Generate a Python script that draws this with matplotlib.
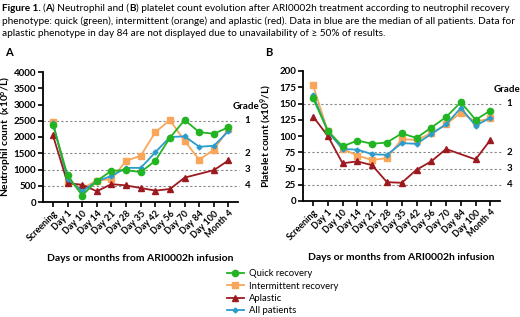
import matplotlib
matplotlib.use('Agg')
from matplotlib import pyplot as plt
import numpy as np

# %%
days = ['Screening', 'Day 1', 'Day 10', 'Day 14', 'Day 21', 'Day 28', 'Day 35',
        'Day 42', 'Day 56', 'Day 70', 'Day 84', 'Day 100', 'Month 4']

neu_quick = [2380, 820, 200, 650, 960, 980, 920, 1270, 1980, 2520, 2150, 2100, 2300]
neu_inter = [2470, 620, 420, 660, 700, 1270, 1420, 2150, 2520, 1880, 1300, 1610, 2250]
neu_aplastic = [2050, 580, 530, 330, 550, 510, 430, 350, 400, 750, np.nan, 980, 1280]
neu_all = [2420, 720, 330, 640, 800, 1050, 1050, 1530, 2000, 2020, 1700, 1730, 2180]

plt_quick = [158, 108, 84, 93, 88, 90, 104, 97, 113, 129, 152, 125, 139]
plt_inter = [178, 107, 80, 70, 63, 66, 95, 94, 104, 118, 136, 122, 127]
plt_aplastic = [130, 100, 58, 61, 55, 29, 28, 48, 61, 80, np.nan, 64, 94]
plt_all = [163, 107, 80, 79, 72, 71, 89, 88, 103, 118, 143, 116, 128]

neu_grades = [2500, 1500, 1000, 500]
plt_grades = [150, 75, 50, 25]
grade_names = ['1', '2', '3', '4']

series_names = ['Quick recovery', 'Intermittent recovery', 'Aplastic', 'All patients']

# %%
plt.rcParams['font.family'] = ['Lato', 'DejaVu Sans']
plt.rcParams['mathtext.fontset'] = 'custom'
plt.rcParams['mathtext.rm'] = 'Lato:bold'
plt.rcParams['mathtext.default'] = 'rm'

GREEN = '#22b422'
ORANGE = '#f9a65a'
RED = '#9c1a1f'
BLUE = '#2b9ccc'

fig = plt.figure(figsize=(5.2, 3.17), dpi=100)
renderer = fig.canvas.get_renderer()

# caption, first line has bold parts
first_line = [('Figure 1. ', 'bold'), ('(', 'normal'), ('A', 'bold'),
              (') Neutrophil and (', 'normal'), ('B', 'bold'),
              (') platelet count evolution after ARI0002h treatment according to neutrophil recovery', 'normal')]
x0 = 0.003
for txt, w in first_line:
    t = fig.text(x0, 0.988, txt, fontsize=7.2, weight=w, va='top', ha='left')
    x0 += t.get_window_extent(renderer=renderer).width / fig.bbox.width
fig.text(0.003, 0.948, 'phenotype: quick (green), intermittent (orange) and aplastic (red). Data in blue are the median of all patients. Data for',
         fontsize=7.2, va='top', ha='left')
fig.text(0.003, 0.908, 'aplastic phenotype in day 84 are not displayed due to unavailability of \u2265 50% of results.',
         fontsize=7.2, va='top', ha='left')

fig.text(0.01, 0.822, 'A', fontsize=8, weight='bold')
fig.text(0.51, 0.822, 'B', fontsize=8, weight='bold')

ax_a = fig.add_axes([43 / 520, 1 - 202 / 317, 195 / 520, 130 / 317])
ax_b = fig.add_axes([303 / 520, 1 - 201 / 317, 197 / 520, 130 / 317])

x = np.arange(len(days))


def draw(ax, quick, inter, apl, allp, grades, ylim, step, ylabel, label_x):
    for g, name in zip(grades, grade_names):
        ax.plot([-0.7, 12.75], [g, g], ls=(0, (2, 2)), color='#888888', lw=0.8,
                clip_on=False, zorder=1)
        ax.text(13.1, g, name, fontsize=7, weight='bold', va='center', ha='left')
    ax.text(12.25, grades[0] + (ylim[1] - ylim[0]) * 0.11, 'Grade', fontsize=7,
            weight='bold', va='center', ha='left')

    mask = ~np.isnan(np.array(apl, dtype=float))
    ax.plot(x, inter, color=ORANGE, marker='s', ms=4.8, lw=1.3, zorder=3,
            label=series_names[1])
    ax.plot(x[mask], np.array(apl)[mask], color=RED, marker='^', ms=4.5, lw=1.3,
            zorder=3, label=series_names[2])
    ax.plot(x, allp, color=BLUE, marker='D', ms=2.5, lw=1.3, zorder=4,
            label=series_names[3])
    ax.plot(x, quick, color=GREEN, marker='o', ms=4.5, lw=1.3, zorder=5,
            label=series_names[0])

    ax.set_ylim(*ylim)
    ax.set_yticks(np.arange(ylim[0], ylim[1] + 1, step))
    ax.set_xlim(-0.68, 12.65)
    ax.set_xticks(x)
    ax.set_xticklabels(days, rotation=45, ha='right', rotation_mode='anchor',
                       fontsize=6.5, weight='bold')
    for lab in ax.get_yticklabels():
        lab.set_fontsize(7)
        lab.set_fontweight('bold')
    ax.tick_params(axis='both', direction='out', length=3.5, width=1.2, pad=1.5)
    ax.spines['top'].set_visible(False)
    ax.spines['right'].set_visible(False)
    ax.spines['left'].set_linewidth(1.3)
    ax.spines['bottom'].set_linewidth(1.3)
    ax.set_ylabel(ylabel, fontsize=7.3, weight='bold')
    ax.yaxis.set_label_coords(label_x, 0.5)
    ax.set_xlabel('Days or months from ARI0002h infusion', fontsize=7.5,
                  weight='bold', labelpad=8)


draw(ax_a, neu_quick, neu_inter, neu_aplastic, neu_all, neu_grades, (0, 4000), 500,
     'Neutrophil count  (x10$^{6}$/L)', -0.15)
draw(ax_b, plt_quick, plt_inter, plt_aplastic, plt_all, plt_grades, (0, 200), 25,
     'Platelet count (x10$^{9}$/L)', -0.145)

handles, labels = ax_a.get_legend_handles_labels()
order = [3, 0, 1, 2]
fig.legend([handles[i] for i in order], [labels[i] for i in order],
           loc='upper left', bbox_to_anchor=(0.427, 0.165), frameon=False,
           fontsize=6.8, handlelength=1.8, labelspacing=0.35, borderpad=0,
           handletextpad=0.6)

fig.savefig('out.png', dpi=100)
